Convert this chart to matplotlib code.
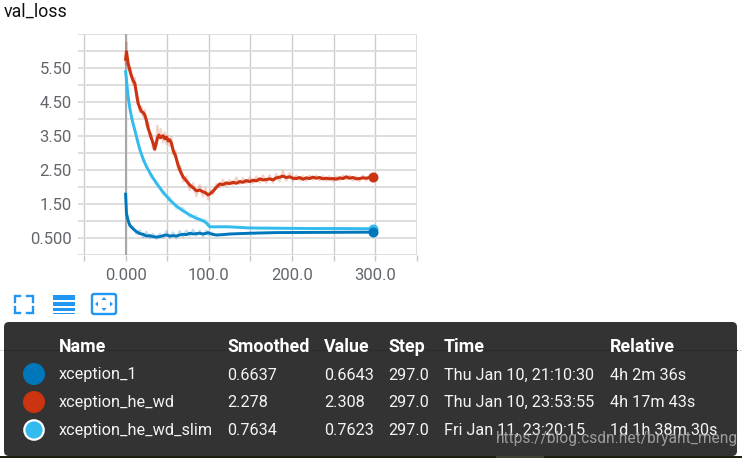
import matplotlib
matplotlib.use("Agg")
import matplotlib.pyplot as plt
from matplotlib.patches import FancyBboxPatch, Circle, Rectangle

plt.rcParams['font.family'] = ['Roboto', 'DejaVu Sans']

# data
steps_he = [0, 1, 3, 6, 9, 11, 13, 15, 17, 19, 21, 23, 25, 27, 29, 31, 33, 35, 37, 38, 40, 42, 45, 47, 49, 51, 53, 55, 57,
            60, 63, 66, 69, 73, 77, 81, 85, 89, 93, 96, 99, 102, 105, 109,
            113, 117, 121, 125, 129, 133, 137, 141, 145, 149, 153, 157, 161, 165, 169, 173, 177, 181, 185, 189, 193, 197, 201, 205,
            209, 213, 217, 221, 225, 229, 233, 237, 241, 245, 249, 253, 257, 261, 265, 269, 273, 277, 281, 285, 289, 293, 297]
loss_he = [5.75, 5.97, 5.63, 5.33, 5.12, 5.04, 4.75, 4.45, 4.32, 4.21, 4.18, 4.11, 3.95, 3.72, 3.58, 3.42, 3.28, 3.10, 3.30, 3.42, 3.52, 3.44, 3.50, 3.41, 3.46, 3.35, 3.38, 3.28, 3.08,
           2.90, 2.64, 2.44, 2.29, 2.17, 2.05, 1.97, 1.88, 1.90, 1.85, 1.82, 1.76, 1.80, 1.87, 1.98,
           2.08, 2.06, 2.11, 2.09, 2.13, 2.10, 2.15, 2.13, 2.18, 2.15, 2.19, 2.17, 2.23, 2.20, 2.21, 2.23, 2.20, 2.26, 2.28, 2.31, 2.27, 2.29, 2.25, 2.24,
           2.27, 2.22, 2.26, 2.24, 2.28, 2.25, 2.27, 2.23, 2.25, 2.23, 2.24, 2.22, 2.26, 2.24, 2.29, 2.25, 2.27, 2.23, 2.24, 2.26, 2.25, 2.27, 2.278]
raw_he = [5.6, 6.25, 5.45, 5.5, 5.0, 5.2, 4.6, 4.6, 4.2, 4.35, 4.05, 4.25, 3.8, 3.9, 3.45, 3.55, 3.1, 3.25, 3.2, 3.8, 3.4, 3.7, 3.3, 3.6, 3.25, 3.5, 3.2, 3.45, 2.95,
          3.05, 2.5, 2.6, 2.15, 2.3, 1.9, 2.1, 1.72, 2.05, 1.7, 1.95, 1.62, 1.9, 1.78, 2.08,
          1.98, 2.2, 2.02, 2.2, 2.05, 2.27, 2.08, 2.25, 2.1, 2.27, 2.1, 2.3, 2.12, 2.33, 2.12, 2.34, 2.12, 2.38, 2.16, 2.46, 2.18, 2.4, 2.17, 2.33,
          2.19, 2.31, 2.17, 2.33, 2.2, 2.33, 2.18, 2.31, 2.17, 2.31, 2.16, 2.3, 2.18, 2.33, 2.2, 2.33, 2.18, 2.3, 2.17, 2.33, 2.18, 2.33, 2.308]

steps_slim = [0, 1, 3, 5, 7, 9, 11, 14, 17, 21, 25, 31, 37, 45, 53, 61, 69, 77, 85, 90, 95, 98, 101, 105, 113, 125, 149, 180, 220, 260, 297]
loss_slim = [5.38, 5.15, 4.65, 4.32, 4.06, 3.85, 3.67, 3.38, 3.10, 2.82, 2.59, 2.33, 2.10, 1.84, 1.61, 1.43, 1.29, 1.17, 1.07, 1.03, 0.97, 0.91, 0.82, 0.82, 0.82, 0.82, 0.785, 0.78, 0.77, 0.77, 0.7634]
raw_slim = [5.38, 5.1, 4.7, 4.25, 4.1, 3.8, 3.72, 3.3, 3.15, 2.75, 2.65, 2.25, 2.18, 1.76, 1.7, 1.35, 1.38, 1.1, 1.16, 0.98, 1.05, 0.86, 0.85, 0.8, 0.84, 0.8, 0.8, 0.76, 0.78, 0.76, 0.7623]

steps_x1 = [0, 1, 3, 5, 9, 13, 17, 21, 25, 29, 33, 37, 41, 45, 49, 53, 57, 61, 65, 69, 73, 77, 81, 85, 89, 93, 97, 99, 104, 109, 117, 125, 149, 180, 220, 260, 297]
loss_x1 = [1.78, 1.22, 1.0, 0.87, 0.76, 0.68, 0.62, 0.60, 0.55, 0.56, 0.53, 0.52, 0.53, 0.56, 0.58, 0.55, 0.56, 0.55, 0.58, 0.60, 0.59, 0.63, 0.61, 0.62, 0.63, 0.61, 0.63, 0.65, 0.60, 0.58, 0.59, 0.61, 0.63, 0.65, 0.655, 0.66, 0.6637]
raw_x1 = [1.78, 1.15, 1.05, 0.8, 0.82, 0.6, 0.72, 0.5, 0.68, 0.48, 0.62, 0.46, 0.62, 0.5, 0.7, 0.48, 0.66, 0.48, 0.7, 0.52, 0.72, 0.55, 0.74, 0.55, 0.72, 0.53, 0.72, 0.58, 0.65, 0.56, 0.62, 0.59, 0.65, 0.64, 0.665, 0.65, 0.6643]

run_names = ['xception_1', 'xception_he_wd', 'xception_he_wd_slim']
smoothed = ['0.6637', '2.278', '0.7634']
value = ['0.6643', '2.308', '0.7623']
step = ['297.0', '297.0', '297.0']
times = ['Thu Jan 10, 21:10:30', 'Thu Jan 10, 23:53:55', 'Fri Jan 11, 23:20:15']
relative = ['4h 2m 36s', '4h 17m 43s', '1d 1h 38m 30s']

BLUE = '#0077bb'
RED = '#cc3311'
CYAN = '#33bbee'
W, H = 742, 458

fig = plt.figure(figsize=(W / 100, H / 100), dpi=100)

# overlay in pixel coordinates for panel, icons and table
ov = fig.add_axes([0, 0, 1, 1], zorder=0)
ov.set_xlim(0, W)
ov.set_ylim(H, 0)
ov.axis('off')

# chart axes, pixel box 78..417 x 33.7..254.7
ax = fig.add_axes([78 / W, 1 - 254.7 / H, (417 - 78) / W, (254.7 - 33.7) / H], zorder=1)
ax.patch.set_alpha(0)
ax.set_xlim(-57.2, 350)
ax.set_ylim(0, 6.5)
for s in ax.spines.values():
    s.set_visible(False)

xt = [-50, 0, 50, 100, 150, 200, 250, 300, 350]
ax.set_xticks(xt)
ax.set_xticklabels(['', '0.000', '', '100.0', '', '200.0', '', '300.0', ''], fontsize=12, color='#62666c')
yt = [0.5 * i for i in range(14)]
ax.set_yticks(yt)
ax.set_yticklabels([{0.5: '0.500', 1.5: '1.50', 2.5: '2.50', 3.5: '3.50', 4.5: '4.50', 5.5: '5.50'}.get(v, '') for v in yt],
                   fontsize=12, color='#62666c')
ax.tick_params(axis='x', length=4.5, width=1.0, color='#c8c8c8', pad=5)
ax.tick_params(axis='y', length=0, pad=4.5)
ax.grid(axis='y', color='#dedede', lw=1.4, zorder=0)
ax.grid(axis='x', color='#cccccc', lw=1.0, zorder=0)
ax.axvline(0, color='#a8a8a8', lw=1.5, zorder=1)
ax.axvline(350, color='#dddddd', lw=1.4, zorder=1)
ax.set_axisbelow(True)

# raw values under the smoothed lines
ax.plot(steps_slim, raw_slim, color=CYAN, lw=1.4, alpha=0.25, zorder=2)
ax.plot(steps_he, raw_he, color=RED, lw=1.6, alpha=0.22, zorder=2)
ax.plot(steps_x1, raw_x1, color=BLUE, lw=1.4, alpha=0.25, zorder=2)

ax.plot(steps_slim, loss_slim, color=CYAN, lw=2.1, zorder=3, solid_joinstyle='round')
ax.plot(steps_he, loss_he, color=RED, lw=2.2, zorder=3, solid_joinstyle='round')
ax.plot(steps_x1, loss_x1, color=BLUE, lw=2.1, zorder=4, solid_joinstyle='round')

ax.plot(steps_slim[-1], loss_slim[-1], 'o', color=CYAN, ms=7.2, mew=0, zorder=5, clip_on=False)
ax.plot(steps_he[-1], loss_he[-1], 'o', color=RED, ms=7.2, mew=0, zorder=5, clip_on=False)
ax.plot(steps_x1[-1], loss_x1[-1], 'o', color=BLUE, ms=7.2, mew=0, zorder=6, clip_on=False)

ov.text(4, 12, 'val_loss', fontsize=12.8, color='#111111', va='center', ha='left')

# toolbar icons
ICON = '#2196f3'
for xs, ys in [([15, 15, 20], [302, 296, 296]), ([27, 33, 33], [296, 296, 302]),
               ([15, 15, 20], [307, 312.5, 312.5]), ([27, 33, 33], [312.5, 312.5, 307])]:
    ov.plot(xs, ys, color=ICON, lw=1.7, solid_joinstyle='miter')
ov.add_patch(Rectangle((53, 294.5), 22, 5, color=ICON, lw=0))
ov.add_patch(Rectangle((53, 302), 22, 3.5, color=ICON, lw=0))
ov.add_patch(Rectangle((53, 308), 22, 2.5, color=ICON, lw=0))
ov.add_patch(Rectangle((53, 313), 22, 1, color=ICON, lw=0))
ov.add_patch(FancyBboxPatch((92, 294), 24, 20, boxstyle='round,pad=0,rounding_size=2', fc='white', ec=ICON, lw=1.7))
for tri in [[(104, 297), (101.5, 300), (106.5, 300)], [(104, 311), (101.5, 308), (106.5, 308)],
            [(95, 304), (98, 301.5), (98, 306.5)], [(113, 304), (110, 301.5), (110, 306.5)]]:
    ov.fill(*zip(*tri), color=ICON, lw=0)

# faint page rule, dark strip at the bottom edge
ov.plot([0, W], [349.5, 349.5], color='#e4e4e4', lw=0.8, zorder=1)
ov.add_patch(Rectangle((0, 456), W, 2, color='#1b2010', lw=0, zorder=1))
ov.add_patch(Rectangle((496, 456), 48, 2, color='#3e4433', lw=0, zorder=1))

# table panel
ov.add_patch(FancyBboxPatch((4, 322), 733, 134, boxstyle='round,pad=0,rounding_size=5', fc='#333333', ec='none', zorder=2))
ov.plot([4, 737], [349.5, 349.5], color='#2c2c2c', lw=0.8, zorder=3)

col_x = [59, 227, 324, 388, 444, 610]
headers = ['Name', 'Smoothed', 'Value', 'Step', 'Time', 'Relative']
for x, h in zip(col_x, headers):
    ov.text(x, 347, h, color='white', fontsize=12.8, fontweight='bold', va='center', zorder=4)

row_y = [375, 402.5, 430.5]
columns = [run_names, smoothed, value, step, times, relative]
for x, col in zip(col_x, columns):
    for y, txt in zip(row_y, col):
        ov.text(x, y, txt, color='#f4f4f4', fontsize=11.7, va='center', zorder=4)

ov.add_patch(Circle((34, 374), 11, fc=BLUE, ec='none', zorder=4))
ov.add_patch(Circle((34, 402), 11, fc=RED, ec='none', zorder=4))
ov.add_patch(Circle((34, 430), 9.7, fc=CYAN, ec='white', lw=1.6, zorder=4))

# site watermark
ov.text(496, 439, 'https://blog.csdn.net/bryant_meng', color='#a8a8a8', fontsize=11.2, va='center', zorder=5, alpha=0.9)

fig.savefig('out.png', dpi=100)
